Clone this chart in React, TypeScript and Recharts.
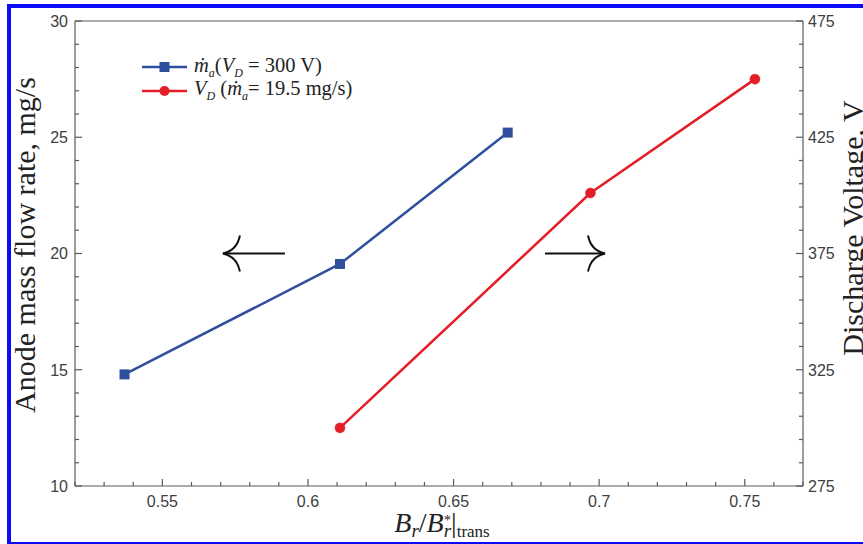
import React from 'react';
import { ComposedChart, Line, XAxis, YAxis, Legend, ReferenceLine } from 'recharts';

// ---- data ----
const xTicks = [0.52, 0.53, 0.54, 0.55, 0.56, 0.57, 0.58, 0.59, 0.6, 0.61, 0.62, 0.63, 0.64, 0.65, 0.66, 0.67, 0.68, 0.69, 0.7, 0.71, 0.72, 0.73, 0.74, 0.75, 0.76, 0.77];
const xMajor = [0.55, 0.6, 0.65, 0.7, 0.75];
const leftTicks = [10, 11, 12, 13, 14, 15, 16, 17, 18, 19, 20, 21, 22, 23, 24, 25, 26, 27, 28, 29, 30];
const leftMajor = [10, 15, 20, 25, 30];
const rightTicks = [275, 285, 295, 305, 315, 325, 335, 345, 355, 365, 375, 385, 395, 405, 415, 425, 435, 445, 455, 465, 475];
const rightMajor = [275, 325, 375, 425, 475];

const massRatio = [0.537, 0.611, 0.6686];
const massFlow = [14.8, 19.55, 25.2];
const voltRatio = [0.611, 0.697, 0.7535];
const voltage = [300, 401, 450];

// annotation arrows (tip, tail) on the left axis at y = 20
const arrowLeft = [0.5708, 0.5921];
const arrowRight = [0.702, 0.6814];
const arrowLevel = 20;

const massData = massRatio.map((x, i) => ({ x, y: massFlow[i] }));
const voltData = voltRatio.map((x, i) => ({ x, v: voltage[i] }));

const BLUE = '#2f4f9e';
const RED = '#e31e26';
const AXIS = '#5a5a5a';
const LABEL_FONT = "'Liberation Sans', Arial, sans-serif";
const SERIF = "'Liberation Serif', 'Times New Roman', serif";

const isIn = (arr: number[], v: number) => arr.some((m) => Math.abs(m - v) < 1e-6);

const BottomTick = (props: any) => {
  const { x, y, payload } = props;
  const major = isIn(xMajor, payload.value);
  return (
    <g>
      <line x1={x} x2={x} y1={y} y2={y - (major ? 7 : 4)} stroke={AXIS} strokeWidth={1.2} />
      {major && (
        <text x={x} y={y + 21} textAnchor="middle" fontFamily={LABEL_FONT} fontSize={16} fill="#404040">
          {String(payload.value)}
        </text>
      )}
    </g>
  );
};

const TopTick = (props: any) => {
  const { x, y, payload } = props;
  const major = isIn(xMajor, payload.value);
  return <line x1={x} x2={x} y1={y} y2={y + (major ? 7 : 4)} stroke={AXIS} strokeWidth={1.2} />;
};

const LeftTick = (props: any) => {
  const { x, y, payload } = props;
  const major = isIn(leftMajor, payload.value);
  return (
    <g>
      <line x1={x} x2={x + (major ? 7 : 4)} y1={y} y2={y} stroke={AXIS} strokeWidth={1.2} />
      {major && (
        <text x={x - 7} y={y} dy="0.36em" textAnchor="end" fontFamily={LABEL_FONT} fontSize={16} fill="#404040">
          {String(payload.value)}
        </text>
      )}
    </g>
  );
};

const RightTick = (props: any) => {
  const { x, y, payload } = props;
  const major = isIn(rightMajor, payload.value);
  return (
    <g>
      <line x1={x} x2={x - (major ? 7 : 4)} y1={y} y2={y} stroke={AXIS} strokeWidth={1.2} />
      {major && (
        <text x={x + 5} y={y} dy="0.36em" textAnchor="start" fontFamily={LABEL_FONT} fontSize={16} fill="#404040">
          {String(payload.value)}
        </text>
      )}
    </g>
  );
};

const SquareDot = (props: any) => {
  const { cx, cy, index } = props;
  if (cx == null || cy == null) return <g key={`sq-${index}`} />;
  return <rect key={`sq-${index}`} x={cx - 5} y={cy - 5} width={10} height={10} fill={BLUE} />;
};

const ArrowShape = (props: any) => {
  const { x1, y1, x2, y2 } = props;
  const dir = x2 > x1 ? 1 : -1; // direction from tip to tail
  const bx = x1 + dir * 17;
  const cx = x1 + dir * 14;
  const d = `M ${bx} ${y1 - 18} Q ${cx} ${y1 - 3} ${x1} ${y1} Q ${cx} ${y1 + 3} ${bx} ${y1 + 18}`;
  return (
    <g>
      <line x1={x1} y1={y1} x2={x2} y2={y2} stroke="#111" strokeWidth={2} />
      <path d={d} fill="none" stroke="#111" strokeWidth={2} />
    </g>
  );
};

const LegendContent = (props: any) => {
  const payload = props.payload || [];
  const sub = { fontSize: 12, fontStyle: 'italic' as const };
  const rows = payload.map((entry: any, i: number) => {
    const isMass = entry.value === 'mass';
    return (
      <div key={i} style={{ display: 'flex', alignItems: 'center', height: 23.7, whiteSpace: 'nowrap' }}>
        <svg width={50} height={16} style={{ marginRight: 4 }}>
          <line x1={2} x2={47} y1={8} y2={8} stroke={isMass ? BLUE : RED} strokeWidth={2.5} />
          {isMass ? (
            <rect x={19.5} y={3} width={10} height={10} fill={BLUE} />
          ) : (
            <circle cx={24.5} cy={8} r={5} fill={RED} />
          )}
        </svg>
        {isMass ? (
          <span style={{ fontFamily: SERIF, fontSize: 20.5, color: '#222' }}>
            <i>ṁ</i>
            <sub style={sub}>a</sub>(<i>V</i>
            <sub style={sub}>D</sub> = 300 V)
          </span>
        ) : (
          <span style={{ fontFamily: SERIF, fontSize: 20.5, color: '#222' }}>
            <i>V</i>
            <sub style={sub}>D</sub> (<i>ṁ</i>
            <sub style={sub}>a</sub>= 19.5 mg/s)
          </span>
        )}
      </div>
    );
  });
  return <div style={{ lineHeight: 1 }}>{rows}</div>;
};

const XLabel = (props: any) => {
  const vb = props.viewBox || { x: 75, y: 486, width: 728, height: 58 };
  return (
    <text x={vb.x + 367} y={vb.y + 46} textAnchor="middle" fontFamily={SERIF} fontSize={28} fill="#222">
      <tspan fontStyle="italic">B</tspan>
      <tspan fontStyle="italic" fontSize={19} dy={5}>r</tspan>
      <tspan dy={-5}>/</tspan>
      <tspan fontStyle="italic">B</tspan>
      <tspan fontStyle="italic" fontSize={19} dy={5}>r</tspan>
      <tspan fontSize={14} dx={-7} dy={-12}>*</tspan>
      <tspan dy={7}>|</tspan>
      <tspan fontSize={17} dy={5}>trans</tspan>
    </text>
  );
};

const LeftLabel = () => (
  <text x={35} y={245} transform="rotate(-90 35 245)" textAnchor="middle" fontFamily={SERIF} fontSize={30} fill="#222">
    Anode mass flow rate, mg/s
  </text>
);

const RightLabel = () => (
  <text x={863} y={228} transform="rotate(-90 863 228)" textAnchor="middle" fontFamily={SERIF} fontSize={30} fill="#222">
    Discharge Voltage, V
  </text>
);

export default function App() {
  return (
    <div style={{ position: 'absolute', left: 0, top: 0, width: 863, height: 544, overflow: 'hidden', background: '#fff' }}>
      <div
        style={{
          position: 'absolute',
          left: 7,
          top: 4,
          width: 900,
          height: 542,
          border: '4.5px solid #0b0bf5',
          boxSizing: 'border-box',
        }}
      />
      <div style={{ position: 'absolute', left: 0, top: 0 }}>
        <ComposedChart width={863} height={544} margin={{ top: 20, right: 0, bottom: 0, left: 0 }}>
          <XAxis
            xAxisId="b"
            type="number"
            dataKey="x"
            domain={[0.52, 0.77]}
            ticks={xTicks}
            interval={0}
            tickSize={0}
            tickMargin={0}
            tick={<BottomTick />}
            height={58}
            stroke={AXIS}
            strokeWidth={1.2}
            label={<XLabel />}
          />
          <XAxis
            xAxisId="t"
            orientation="top"
            type="number"
            dataKey="x"
            domain={[0.52, 0.77]}
            ticks={xTicks}
            interval={0}
            tickSize={0}
            tickMargin={0}
            tick={<TopTick />}
            height={1}
            stroke={AXIS}
            strokeWidth={1.2}
          />
          <YAxis
            yAxisId="left"
            type="number"
            domain={[10, 30]}
            ticks={leftTicks}
            interval={0}
            tickSize={0}
            tickMargin={0}
            tick={<LeftTick />}
            width={75}
            stroke={AXIS}
            strokeWidth={1.2}
            label={<LeftLabel />}
          />
          <YAxis
            yAxisId="right"
            orientation="right"
            type="number"
            domain={[275, 475]}
            ticks={rightTicks}
            interval={0}
            tickSize={0}
            tickMargin={0}
            tick={<RightTick />}
            width={60}
            stroke={AXIS}
            strokeWidth={1.2}
            label={<RightLabel />}
          />
          <Legend
            layout="vertical"
            align="center"
            verticalAlign="middle"
            content={<LegendContent />}
            wrapperStyle={{ left: 140, top: 55, width: 280, height: 48 }}
          />
          <ReferenceLine
            xAxisId="b"
            yAxisId="left"
            segment={[{ x: arrowLeft[0], y: arrowLevel }, { x: arrowLeft[1], y: arrowLevel }]}
            shape={ArrowShape}
          />
          <ReferenceLine
            xAxisId="b"
            yAxisId="left"
            segment={[{ x: arrowRight[0], y: arrowLevel }, { x: arrowRight[1], y: arrowLevel }]}
            shape={ArrowShape}
          />
          <Line
            name="mass"
            data={massData}
            dataKey="y"
            xAxisId="b"
            yAxisId="left"
            stroke={BLUE}
            strokeWidth={2.5}
            dot={SquareDot}
            activeDot={false}
            isAnimationActive={false}
          />
          <Line
            name="volt"
            data={voltData}
            dataKey="v"
            xAxisId="b"
            yAxisId="right"
            stroke={RED}
            strokeWidth={2.5}
            dot={{ r: 5, fill: RED, stroke: RED, strokeWidth: 0.5 }}
            activeDot={false}
            isAnimationActive={false}
          />
        </ComposedChart>
      </div>
    </div>
  );
}
